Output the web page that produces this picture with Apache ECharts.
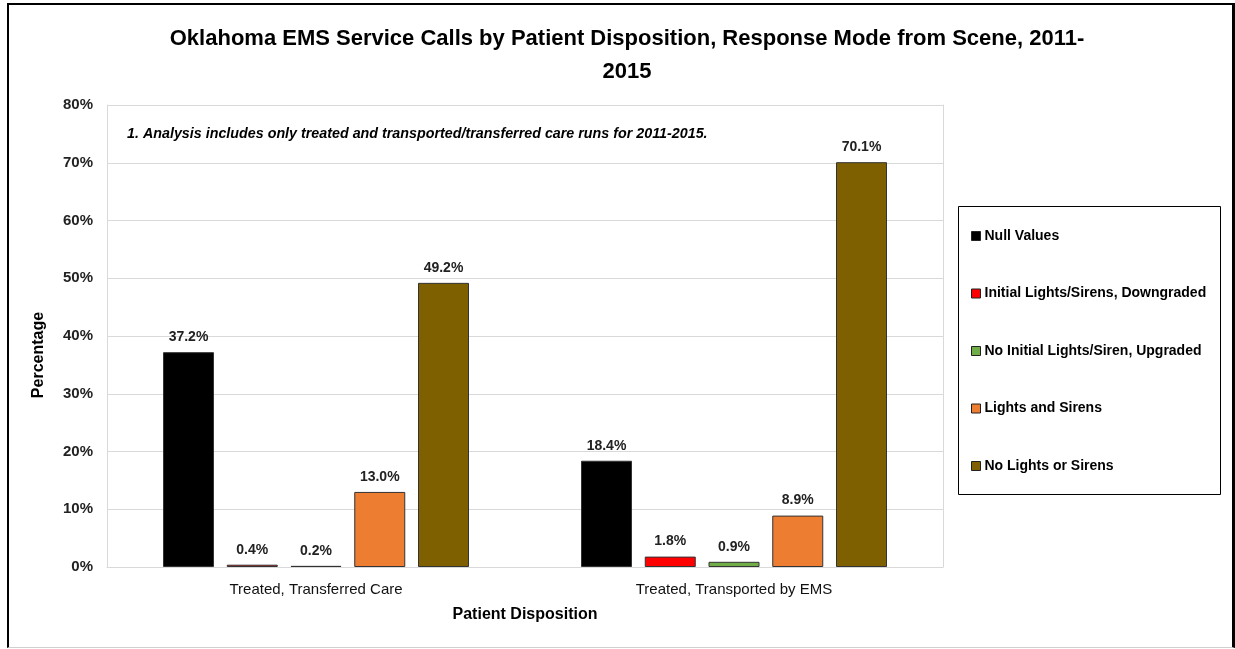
<!DOCTYPE html>
<html>
<head>
<meta charset="utf-8">
<script src="https://cdn.jsdelivr.net/npm/echarts@6/dist/echarts.min.js"></script>
<style>
  html, body { margin: 0; padding: 0; background: #fff; }
  #frame {
    position: absolute; left: 7px; top: 3px; width: 1223px; height: 642px;
    border-left: 2px solid #000; border-top: 2px solid #000; border-right: 3px solid #000;
    border-bottom: 1px solid #d0d0d0;
  }
  #main { position: absolute; left: 0; top: 0; width: 1235px; height: 649px; }
</style>
</head>
<body>
<div id="frame"></div>
<div id="main"></div>
<script>
// 病人处置类别
var categories = ["Treated, Transferred Care", "Treated, Transported by EMS"];
// 响应方式
var seriesNames = ["Null Values", "Initial Lights/Sirens, Downgraded", "No Initial Lights/Siren, Upgraded", "Lights and Sirens", "No Lights or Sirens"];
var seriesColors = ["#000000", "#ff0000", "#70ad47", "#ed7d31", "#7f6000"];
// 百分比数据
var nullValues = [37.2, 18.4];
var downgraded = [0.4, 1.8];
var upgraded = [0.2, 0.9];
var lightsSirens = [13.0, 8.9];
var noLightsSirens = [49.2, 70.1];
var yTicks = [0, 10, 20, 30, 40, 50, 60, 70, 80];

var FONT = '"Liberation Sans Narrow", "Arial Narrow", "Liberation Sans", sans-serif';
var allData = [nullValues, downgraded, upgraded, lightsSirens, noLightsSirens];

var series = [];
for (var i = 0; i < seriesNames.length; i++) {
	series.push({
		name: seriesNames[i],
		type: 'bar',
		yAxisIndex: 0,
		barWidth: 51,
		barGap: '25%',
		data: allData[i],
		itemStyle: { color: seriesColors[i], borderColor: '#333', borderWidth: 1 },
		label: {
			show: true, position: 'top', distance: 8,
			formatter: function(p) { return p.value.toFixed(1) + '%'; },
			fontFamily: FONT, fontSize: 14, fontWeight: 'bold', color: '#222'
		}
	});
}

var myChart = echarts.init(document.getElementById('main'));
var option = {
	animation: false,
	title: {
		text: 'Oklahoma EMS Service Calls by Patient Disposition, Response Mode from Scene, 2011-\n2015',
		left: 622, top: 17, textAlign: 'center',
		textStyle: { fontFamily: FONT, fontSize: 22, fontWeight: 'bold', color: '#000', lineHeight: 33 }
	},
	legend: {
		orient: 'vertical', left: 966, top: 224,
		itemWidth: 9, itemHeight: 9, itemGap: 43.5,
		icon: 'rect',
		textStyle: { fontFamily: FONT, fontSize: 14, fontWeight: 'bold', color: '#000', padding: [0, 0, 0, -1] },
		itemStyle: { borderColor: '#222', borderWidth: 1 },
		data: seriesNames
	},
	grid: { left: 107, right: 292, top: 105, bottom: 82 },
	xAxis: {
		type: 'category', data: categories,
		name: 'Patient Disposition', nameLocation: 'middle', nameGap: 40,
		nameTextStyle: { fontFamily: FONT, fontSize: 16, fontWeight: 'bold', color: '#000' },
		axisLine: { lineStyle: { color: '#d9d9d9' } },
		axisTick: { show: false },
		axisLabel: { fontFamily: FONT, fontSize: 15, color: '#111', margin: 15 }
	},
	yAxis: [{
		type: 'value', min: 0, max: 80, interval: 10,
		axisLine: { show: true, lineStyle: { color: '#d9d9d9' } }, axisTick: { show: false },
		axisLabel: { formatter: '{value}%', fontFamily: FONT, fontSize: 15, fontWeight: 'bold', color: '#222', margin: 14 },
		splitLine: { lineStyle: { color: '#d9d9d9' } }
	}, {
		type: 'value', min: 0, max: 80, interval: 10, position: 'right',
		axisLine: { show: true, lineStyle: { color: '#d9d9d9' } },
		axisTick: { show: false }, axisLabel: { show: false }, splitLine: { show: false }
	}],
	graphic: [{
		type: 'rect',
		shape: { x: 958.5, y: 206.5, width: 262, height: 288 },
		style: { fill: 'none', stroke: '#000', lineWidth: 1 }
	}, {
		type: 'text', x: 127, y: 134,
		style: {
			text: '1. Analysis includes only treated and transported/transferred care runs for 2011-2015.',
			font: 'italic bold 14.3px ' + FONT, fill: '#000', verticalAlign: 'middle'
		}
	}, {
		type: 'text', x: 39, y: 355, rotation: Math.PI / 2,
		style: {
			text: 'Percentage', font: 'bold 16px ' + FONT, fill: '#000',
			align: 'center', verticalAlign: 'middle'
		}
	}],
	series: series
};
myChart.setOption(option);
</script>
</body>
</html>
